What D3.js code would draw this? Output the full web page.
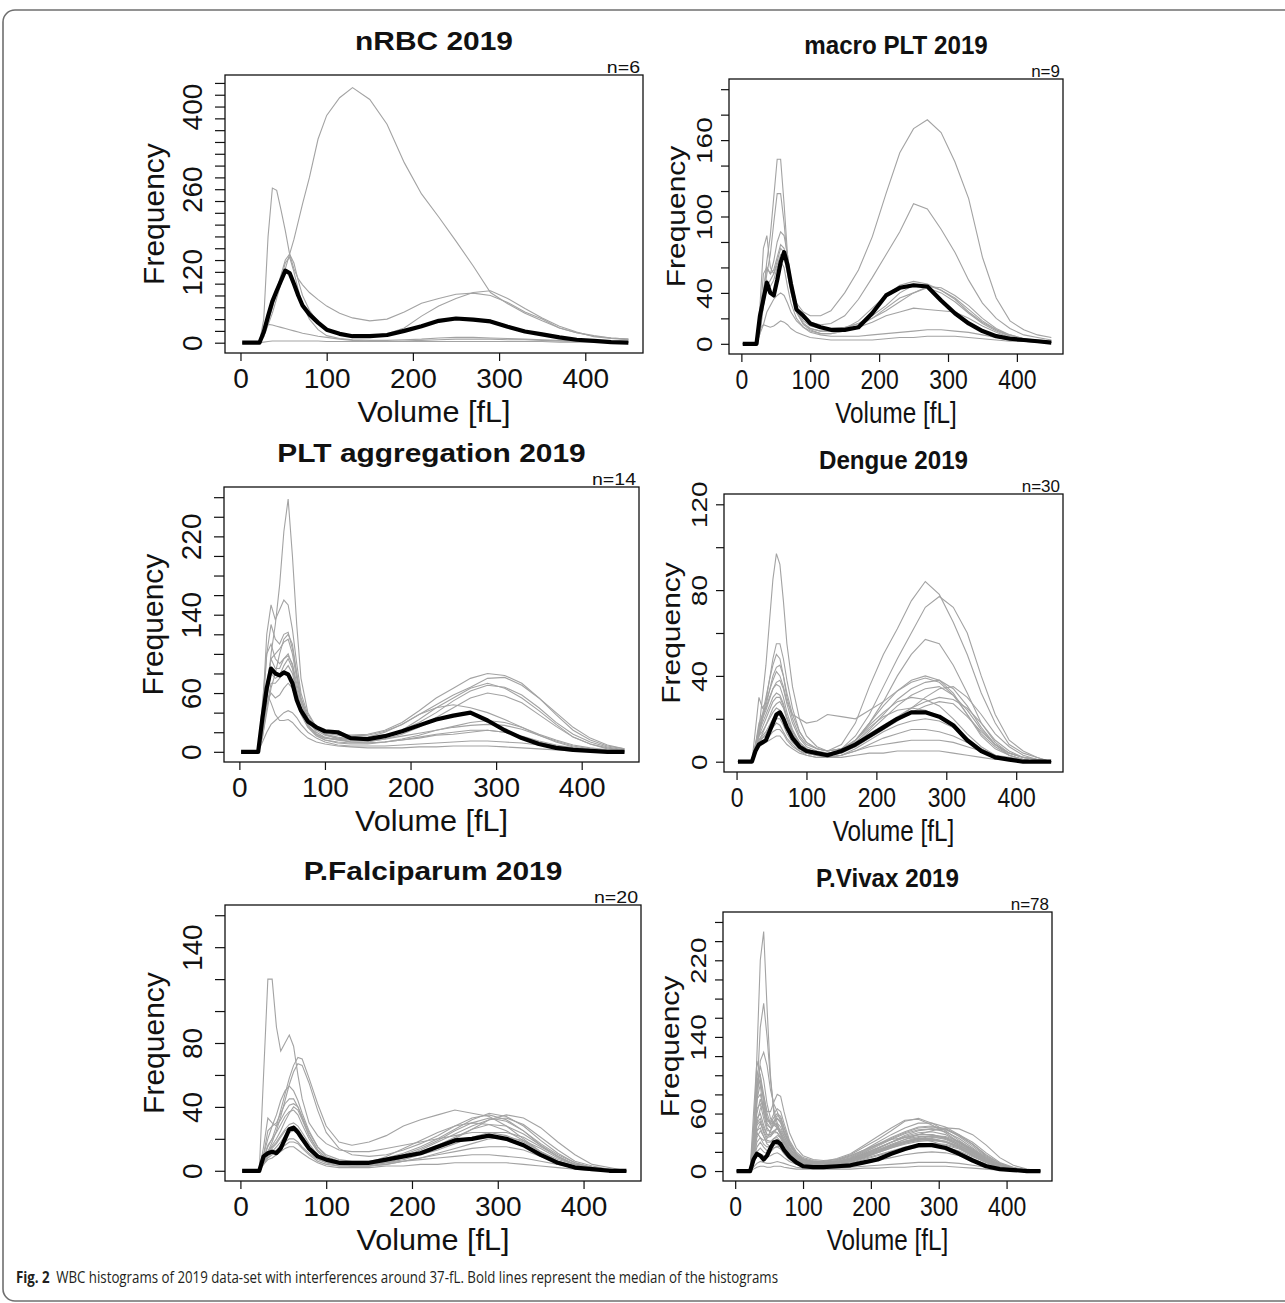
<!DOCTYPE html>
<html><head><meta charset="utf-8">
<script src="https://cdn.jsdelivr.net/npm/d3@7"></script>
<style>body{margin:0;background:#fff}</style>
</head><body><svg id="c" width="1285" height="1303"></svg>
<script>
// ---------------- DATA ----------------
const volumes = [2,22,27,32,37,42,47,52,57,62,67,72,80,90,100,115,130,150,170,190,210,230,250,270,290,310,330,350,370,390,410,430,450];
const xRange = [0, 449];
const xTickValues = [0,100,200,300,400];
const titles = ["nRBC 2019","macro PLT 2019","PLT aggregation 2019","Dengue 2019","P.Falciparum 2019","P.Vivax 2019"];
const sampleSizes = [6,9,14,30,20,78];
const yLimits = [436,200,260,120,160,260];
const yTickMax = [440,200,260,120,160,260];
const yTickLabels = [[0,120,260,400],[0,40,100,160],[0,60,140,220],[0,40,80,120],[0,40,80,140],[0,60,140,220]];
const xLabel = "Volume [fL]";
const yLabel = "Frequency";
const captionBold = "Fig. 2";
const captionText = "WBC histograms of 2019 data-set with interferences around 37-fL. Bold lines represent the median of the histograms";

const nrbcCurves = [
 [0,0,10,30,50,75,100,125,150,175,205,235,280,345,385,415,432,412,370,305,252,213,172,130,85,66,50,37,25,17,12,8,6],
 [0,0,40,180,262,258,225,190,150,125,108,98,85,73,62,50,42,37,40,52,67,75,82,84,80,68,52,40,25,17,11,8,6],
 [0,0,15,40,65,90,115,140,150,135,105,80,55,35,22,15,12,12,15,25,45,62,75,85,88,75,58,42,28,18,10,7,5],
 [0,0,25,31,30,28,26,24,22,20,18,16,14,11,9,6,4,3,2,2,2,2,2,2,2,2,2,2,1,1,1,1,1],
 [0,0,1,2,3,3,3,3,3,3,3,3,3,3,2,2,2,2,2,3,4,5,6,6,6,5,5,4,3,2,2,1,1],
 [0,0,10,35,60,85,110,135,145,120,90,65,40,22,12,7,5,4,4,5,6,8,9,9,8,7,6,5,4,3,2,2,1]
];
const nrbcMedian = [0,0,18,45,70,88,105,122,118,100,80,63,48,34,22,15,11,11,13,20,28,37,41,39,36,27,19,14,9,5,3,1,0];

const macroCurves = [
 [0,0,20,55,60,55,65,80,88,85,70,50,32,25,22,22,26,40,58,84,118,150,169,176,166,143,114,68,36,18,11,7,5],
 [0,0,15,40,65,85,115,145,145,110,70,45,28,20,17,15,16,22,35,52,70,88,110,106,90,72,50,32,20,12,7,5,3],
 [0,0,10,35,55,70,95,118,118,95,65,42,25,16,12,10,10,12,18,28,38,46,49,47,42,35,25,17,11,7,4,3,2],
 [0,0,30,75,85,60,55,65,75,72,58,42,25,16,12,10,10,12,16,22,30,40,46,46,42,36,27,18,11,6,4,2,1],
 [0,0,10,30,45,50,55,62,70,68,55,40,25,15,11,8,8,10,14,20,28,36,40,44,40,33,24,16,10,6,4,2,1],
 [0,0,8,15,25,30,35,38,40,38,32,25,18,13,10,8,8,10,13,17,22,25,28,27,26,25,20,14,9,5,3,2,1],
 [0,0,12,15,14,13,14,16,18,17,15,12,9,7,5,4,3,3,3,3,4,5,5,6,6,6,5,4,3,2,2,1,1],
 [0,0,8,30,50,45,50,60,65,60,45,32,20,13,9,7,6,6,6,7,8,9,10,11,11,10,9,7,5,3,2,1,1],
 [0,0,10,40,60,55,58,68,78,75,60,42,26,18,14,12,12,13,16,20,26,33,40,45,44,38,30,20,12,7,4,2,1]
];
const macroMedian = [0,0,22,35,48,40,38,50,64,72,62,47,27,22,16,13,11,11,13,24,38,44,46,45,34,24,16,10,6,4,3,2,1];

const aggCurves = [
 [0,0,20,55,100,130,170,225,258,200,130,75,40,25,18,13,10,9,10,12,14,17,18,20,22,20,15,10,6,4,2,1,0],
 [0,0,40,120,150,135,145,155,150,125,90,60,38,25,20,18,17,18,22,30,42,55,65,75,80,78,70,55,38,22,12,6,3],
 [0,0,35,100,130,115,110,120,122,105,80,55,35,24,19,17,16,17,21,28,38,48,58,66,75,76,68,55,40,25,14,7,3],
 [0,0,15,40,65,80,100,115,120,110,80,55,35,24,18,15,13,13,16,22,30,40,52,62,68,66,58,45,30,18,10,5,2],
 [0,0,20,60,95,100,105,112,115,100,75,52,32,20,15,12,10,10,13,18,25,35,45,55,60,57,50,38,26,15,8,4,1],
 [0,0,50,100,110,95,90,95,98,90,70,50,32,22,17,14,12,12,15,22,33,45,55,65,70,65,55,42,28,15,8,3,1],
 [0,0,20,50,60,55,58,65,70,65,52,38,25,16,12,9,8,8,10,13,17,22,26,30,32,30,25,18,12,7,4,2,1],
 [0,0,10,20,28,32,36,40,42,40,35,28,20,14,10,7,6,6,6,7,8,9,10,11,11,10,9,7,5,3,2,1,0],
 [0,0,30,60,50,38,32,32,33,30,25,20,14,10,8,6,5,4,4,4,5,5,6,6,6,5,4,3,2,1,1,0,0],
 [0,0,25,70,95,85,85,95,100,88,65,45,28,18,14,13,13,15,20,28,38,45,48,45,40,33,25,17,10,5,2,1,0],
 [0,0,15,45,70,70,75,82,88,80,60,42,26,17,12,10,9,9,10,12,15,18,20,22,22,20,16,11,7,4,2,1,0],
 [0,0,20,55,80,75,78,88,95,85,62,43,27,18,14,12,11,11,13,16,19,22,25,27,28,27,23,17,11,6,3,1,0]
];
const aggMedian = [0,0,35,65,85,80,78,81,79,70,53,42,31,25,21,20,14,13,16,21,27,33,37,40,32,22,14,8,4,2,1,0,0];

const dengueCurves = [
 [0,0,5,15,30,45,65,85,97,92,75,55,35,20,12,7,5,8,18,35,50,62,75,84,78,65,50,32,18,8,4,2,0],
 [0,0,5,12,20,28,38,48,55,55,48,38,25,14,9,6,5,6,12,22,35,48,60,72,77,72,60,40,22,10,5,2,0],
 [0,0,8,15,22,30,38,45,50,48,40,30,20,12,8,6,5,6,10,18,28,40,50,57,55,45,32,18,9,4,2,1,0],
 [0,0,15,30,25,28,33,38,42,40,35,28,22,20,18,19,22,21,20,24,28,33,37,39,37,31,22,13,7,3,1,0,0],
 [0,0,8,18,22,25,30,34,36,35,30,23,15,9,6,4,3,5,10,18,26,33,38,40,38,32,22,12,6,3,1,0,0],
 [0,0,6,12,16,20,24,28,30,30,26,20,13,8,5,3,3,4,8,14,20,26,31,34,35,31,24,15,8,4,2,1,0],
 [0,0,7,12,14,17,20,23,25,24,21,16,10,6,4,3,3,5,10,17,23,28,30,29,26,20,13,7,3,1,0,0,0],
 [0,0,5,9,11,13,16,18,20,20,17,13,9,6,4,3,3,4,7,11,15,19,23,26,28,27,21,14,8,4,2,1,0],
 [0,0,6,10,11,12,14,16,18,17,14,11,8,5,4,3,2,3,6,10,14,17,19,20,19,16,11,6,3,1,0,0,0],
 [0,0,5,8,9,10,12,14,15,15,13,10,7,5,3,2,2,3,5,7,8,9,10,10,10,9,7,5,3,2,1,0,0],
 [0,0,4,7,8,9,10,11,12,12,10,8,6,4,3,2,2,2,3,4,4,5,5,5,5,4,3,2,1,1,0,0,0],
 [0,0,6,14,20,26,33,40,44,45,40,32,22,14,9,6,5,6,9,13,17,21,25,28,30,29,25,18,10,5,2,1,0],
 [0,0,8,16,20,24,29,34,37,38,34,27,18,11,7,5,4,5,7,11,15,20,25,30,34,35,30,22,13,7,3,1,0],
 [0,0,5,10,13,17,21,25,27,28,25,20,14,9,6,4,4,5,9,15,22,29,34,37,38,34,26,16,8,3,1,0,0],
 [0,0,6,10,12,14,17,20,22,22,19,15,10,6,4,3,2,3,5,8,11,13,15,15,14,12,9,5,3,1,0,0,0],
 [0,0,7,14,18,22,26,30,32,31,27,21,14,9,6,4,3,5,10,16,21,24,25,24,21,16,10,5,2,1,0,0,0]
];
const dengueMedian = [0,0,5,8,9,10,14,18,22,23,20,16,11,7,5,4,3,5,8,12,16,20,23,23,21,17,10,5,2,1,0,0,0];

const falcCurves = [
 [0,0,60,120,120,90,75,80,85,78,60,45,30,22,17,13,12,12,14,16,18,20,22,24,24,22,18,12,7,4,2,1,0],
 [0,0,8,15,20,28,38,48,58,66,71,70,58,42,28,18,16,18,22,28,32,35,38,36,34,28,20,12,6,3,1,0,0],
 [0,0,6,12,18,25,34,44,54,62,67,66,55,38,24,14,10,9,10,13,17,22,28,33,35,32,25,16,9,4,2,1,0],
 [0,0,10,20,28,35,44,50,53,50,44,36,25,15,10,7,6,6,8,11,15,20,26,32,36,34,28,19,11,5,2,1,0],
 [0,0,10,25,28,30,36,42,45,45,40,33,22,13,8,5,4,4,6,9,13,18,23,28,32,33,29,21,13,6,3,1,0],
 [0,0,15,33,30,28,32,37,41,42,40,34,24,15,9,6,5,5,7,10,14,19,25,30,33,31,25,17,10,5,2,1,0],
 [0,0,8,16,20,24,29,34,37,38,35,29,20,12,7,4,3,4,6,9,12,16,21,26,29,28,23,16,9,4,2,1,0],
 [0,0,6,12,15,18,22,26,29,30,28,24,17,10,6,4,3,3,5,7,10,13,17,21,24,24,21,15,9,4,2,1,0],
 [0,0,5,10,12,15,18,22,24,25,23,19,13,8,5,4,4,5,9,14,19,24,28,30,29,25,19,12,6,3,1,0,0],
 [0,0,4,8,10,12,14,16,18,18,17,14,10,6,4,3,3,3,4,6,8,10,12,14,15,15,13,9,5,3,1,0,0],
 [0,0,4,7,8,10,12,14,15,15,13,11,8,5,3,2,2,2,3,3,4,4,5,5,5,5,4,3,2,1,0,0,0],
 [0,0,5,9,11,13,16,18,20,20,18,15,11,7,5,3,3,3,4,6,8,11,14,17,20,21,19,14,8,4,2,1,0],
 [0,0,6,12,14,17,21,25,27,28,26,22,15,9,6,4,4,4,5,8,11,15,20,26,32,35,33,27,18,10,4,2,0],
 [0,0,6,12,16,20,25,31,36,40,38,32,22,13,8,5,4,4,5,6,7,8,9,10,10,9,8,6,4,2,1,0,0]
];
const falcMedian = [0,0,9,11,12,11,14,20,26,27,24,20,14,9,7,5,5,5,7,9,11,15,19,20,22,20,16,10,5,2,1,0,0];

const vivaxCurves = [
 [0,0,20,120,220,250,170,100,60,45,38,30,22,15,11,9,8,9,12,17,22,27,31,34,34,31,25,17,10,5,2,1,0],
 [0,0,15,80,150,175,140,95,65,50,40,32,23,16,12,10,9,10,13,18,24,30,35,38,38,34,27,19,11,5,2,1,0],
 [0,0,15,70,115,124,110,85,70,62,52,40,28,18,13,10,9,10,13,18,24,30,36,40,41,38,30,21,12,6,3,1,0],
 [0,0,60,115,100,70,50,45,48,45,38,30,20,13,9,7,7,8,11,16,21,26,30,33,33,30,24,16,9,4,2,1,0],
 [0,0,40,95,100,80,60,50,50,48,40,30,20,12,8,6,6,7,10,15,20,25,30,34,36,35,30,22,13,6,3,1,0],
 [0,0,30,75,90,78,62,62,72,80,78,62,40,24,16,12,11,12,16,22,30,38,45,50,50,46,38,28,16,8,3,1,0],
 [0,0,30,75,80,65,52,52,60,65,62,50,32,20,14,11,10,12,17,25,33,42,52,55,50,42,32,22,13,6,3,1,0],
 [0,0,25,65,70,55,42,42,48,50,46,37,25,15,10,8,8,10,14,20,27,34,40,45,46,44,38,30,19,9,4,1,0],
 [0,0,20,55,60,48,38,36,40,40,36,29,19,12,8,6,6,8,12,17,22,28,33,36,36,33,27,19,11,5,2,1,0],
 [0,0,15,42,50,40,32,31,34,35,31,25,16,10,7,6,6,7,10,14,19,24,28,31,32,30,25,18,10,5,2,1,0],
 [0,0,20,40,35,28,25,27,30,30,27,22,15,9,6,5,5,6,8,12,16,20,24,27,28,27,23,16,9,4,2,1,0],
 [0,0,10,25,30,25,21,21,24,25,23,18,12,8,5,4,4,5,7,10,14,18,22,25,26,25,21,15,9,4,2,1,0],
 [0,0,8,16,18,16,15,16,18,19,17,14,10,7,5,4,4,4,6,8,11,14,17,19,20,19,16,12,7,3,1,0,0],
 [0,0,4,8,10,9,8,8,9,10,9,8,6,4,3,3,3,3,4,5,6,7,8,9,9,9,8,6,4,2,1,0,0],
 [0,0,2,4,5,5,4,4,5,5,5,4,3,2,2,2,2,2,2,3,3,4,4,5,5,5,4,3,2,1,0,0,0],
 [0,0,35,85,95,75,55,48,52,55,50,40,27,17,12,10,10,13,18,27,36,45,53,54,48,40,30,20,11,5,2,1,0],
 [0,0,18,50,55,45,38,38,42,45,43,36,24,15,10,8,8,9,12,16,21,27,33,38,42,45,44,38,27,14,6,2,0],
 [0,0,18,42,45,36,28,26,27,28,25,20,14,9,7,7,8,11,16,22,28,33,35,34,31,26,20,13,7,3,1,0,0],
 [0,0,12,30,35,32,34,42,50,55,52,42,28,17,11,8,7,8,11,15,20,25,29,32,33,31,26,19,11,5,2,1,0],
 [0,0,20,50,65,70,55,50,56,60,57,46,30,18,12,9,9,11,15,21,28,35,41,46,47,44,36,26,15,7,3,1,0],
 [0,0,45,105,90,60,45,40,42,40,34,27,18,11,8,6,6,8,12,18,24,30,35,38,38,35,28,20,11,5,2,1,0],
 [0,0,30,85,110,95,70,55,50,46,40,31,21,13,9,7,7,8,11,15,20,26,31,35,37,36,31,23,14,6,3,1,0],
 [0,0,25,60,75,62,48,45,52,58,55,45,30,18,12,9,8,9,12,17,23,30,37,42,44,43,37,28,17,8,3,1,0],
 [0,0,12,35,42,36,30,30,34,37,35,29,20,12,8,6,6,7,10,14,19,24,29,33,35,34,29,21,12,6,2,1,0],
 [0,0,20,48,52,42,35,36,41,44,41,34,23,14,9,7,7,9,13,19,26,33,39,43,44,41,34,24,14,6,3,1,0],
 [0,0,8,20,24,20,18,20,24,26,25,21,15,10,7,5,5,6,9,13,17,21,25,28,29,28,24,17,10,5,2,1,0]
];
const vivaxMedian = [0,0,12,18,16,12,16,24,30,31,28,22,15,9,5,4,4,5,6,9,12,18,23,27,27,24,18,11,5,2,1,0,0];

const grayCurves = [nrbcCurves, macroCurves, aggCurves, dengueCurves, falcCurves, vivaxCurves];
const medianCurves = [nrbcMedian, macroMedian, aggMedian, dengueMedian, falcMedian, vivaxMedian];

// ---------------- LAYOUT / STYLE ----------------
const FONT = "'Liberation Sans', Arial, Helvetica, sans-serif";
const boxes = [[225,75,643,353],[729,79,1063,354],[224,487,639,762],[724,494,1063,772],[225,905,641,1181],[723,912,1052,1181]];
const sides = [0,1,0,1,0,1];
const sideStyle = [
  {tick:1.0, label:1.02, title:1.15, n:1.15, freq:1.0, ytOff:23, freqOff:61, tickLen:10},
  {tick:0.82, label:0.81, title:0.93, n:1.0, freq:0.88, ytOff:17, freqOff:44, tickLen:8}
];

const svg = d3.select("#c");
svg.append("rect").attr("width",1285).attr("height",1303).attr("fill","#fff");

titles.forEach((title, i) => {
  const [x0,y0,x1,y1] = boxes[i];
  const S = sideStyle[sides[i]];
  const xe = (xRange[1]-xRange[0])*0.04;
  const x = d3.scaleLinear().domain([xRange[0]-xe, xRange[1]+xe]).range([x0,x1]);
  const ye = yLimits[i]*0.04;
  const y = d3.scaleLinear().domain([-ye, yLimits[i]+ye]).range([y1,y0]);
  const g = svg.append("g");
  const line = d3.line().x((v,k)=>x(volumes[k])).y(v=>y(v));

  g.append("g").selectAll("path").data(grayCurves[i]).join("path")
    .attr("d", line).attr("fill","none").attr("stroke","#a3a3a3").attr("stroke-width",1.1);
  g.append("path").attr("d", line(medianCurves[i])).attr("fill","none")
    .attr("stroke","#000").attr("stroke-width",4.2).attr("stroke-linejoin","round");

  g.append("rect").attr("x",x0).attr("y",y0).attr("width",x1-x0).attr("height",y1-y0)
    .attr("fill","none").attr("stroke","#111").attr("stroke-width",1.3);

  // y axis
  const yAx = g.append("g").attr("transform",`translate(${x0},0)`)
    .call(d3.axisLeft(y).tickValues(d3.range(0, yTickMax[i]+1, 20)).tickSize(S.tickLen)
      .tickFormat(v => yTickLabels[i].includes(v) ? String(v) : ""));
  yAx.select(".domain").remove();
  yAx.selectAll(".tick line").attr("stroke","#111").attr("stroke-width",1.2);
  yAx.selectAll(".tick text").attr("x",0).attr("y",0).attr("dy",0)
    .attr("transform",`translate(${-S.ytOff},0) scale(${S.tick},1) rotate(-90)`)
    .attr("text-anchor","middle").attr("font-family",FONT).attr("font-size",28).attr("fill","#111");

  // x axis
  const xAx = g.append("g").attr("transform",`translate(0,${y1})`)
    .call(d3.axisBottom(x).tickValues(xTickValues).tickSize(8).tickFormat(d3.format("d")));
  xAx.select(".domain").remove();
  xAx.selectAll(".tick line").attr("stroke","#111").attr("stroke-width",1.2);
  xAx.selectAll(".tick text").attr("y",0).attr("dy",0)
    .attr("transform",`translate(0,35) scale(${S.tick},1)`)
    .attr("text-anchor","middle").attr("font-family",FONT).attr("font-size",28).attr("fill","#111");

  const cx = (x0+x1)/2, cy = (y0+y1)/2;
  g.append("text").text(title).attr("transform",`translate(${cx},${y0-25}) scale(${S.title},1)`)
    .attr("text-anchor","middle").attr("font-family",FONT).attr("font-weight","bold").attr("font-size",26).attr("fill","#111");
  g.append("text").text("n="+sampleSizes[i]).attr("transform",`translate(${x1-3},${y0-2}) scale(${S.n},1)`)
    .attr("text-anchor","end").attr("font-family",FONT).attr("font-size",17).attr("fill","#111");
  g.append("text").text(xLabel).attr("transform",`translate(${cx},${y1+69}) scale(${S.label},1)`)
    .attr("text-anchor","middle").attr("font-family",FONT).attr("font-size",30).attr("fill","#111");
  g.append("text").text(yLabel).attr("transform",`translate(${x0-S.freqOff},${cy}) scale(${S.freq},1) rotate(-90)`)
    .attr("text-anchor","middle").attr("font-family",FONT).attr("font-size",30).attr("fill","#111");
});

// frame and caption
svg.append("path").attr("d","M1290,10 H15 A12,12 0 0 0 3,22 V1289 A12,12 0 0 0 15,1301 H1290")
  .attr("fill","none").attr("stroke","#6f6f6f").attr("stroke-width",1.6);
const cap = svg.append("text").attr("x",16).attr("y",1283).attr("font-family","'Open Sans', 'Liberation Sans', sans-serif")
  .attr("font-size",16.5).attr("fill","#231f20").attr("textLength",762).attr("lengthAdjust","spacingAndGlyphs");
cap.append("tspan").attr("font-weight","bold").text(captionBold);
cap.append("tspan").attr("dx",8).text(captionText);
</script></body></html>
